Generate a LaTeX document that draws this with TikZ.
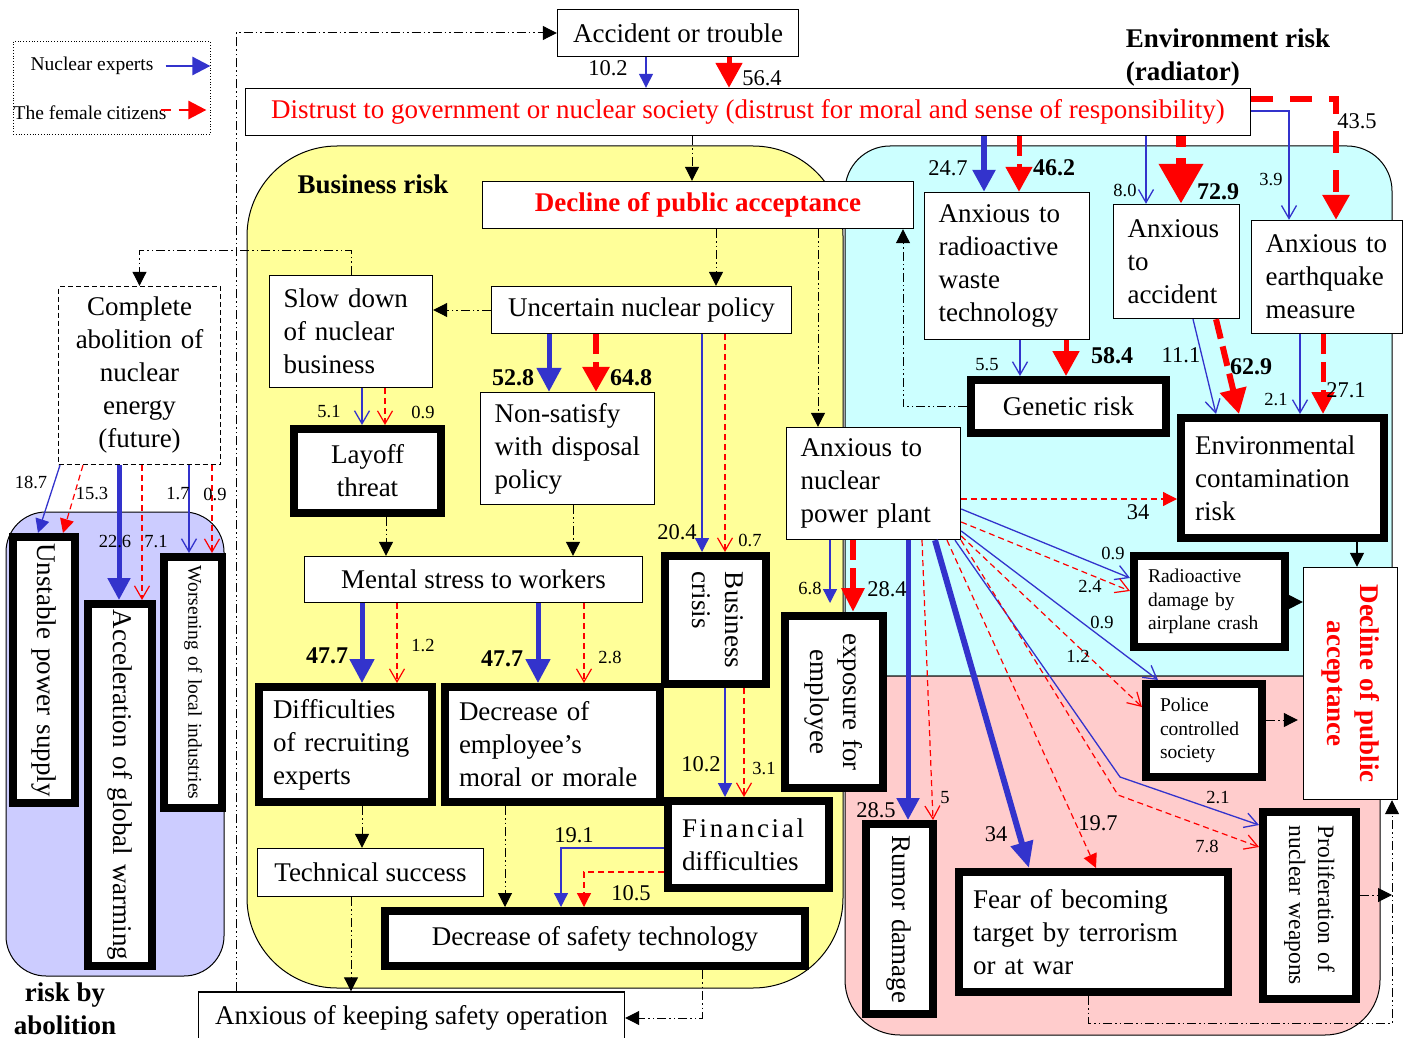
\documentclass[tikz,border=0pt]{standalone}
\usepackage{fontspec}
\setmainfont{Liberation Serif}
\usepackage{graphicx}
\usetikzlibrary{arrows.meta}
\definecolor{ink}{HTML}{000000}
\definecolor{expert}{HTML}{3333CC}
\definecolor{citizen}{HTML}{FF0000}
\definecolor{yel}{HTML}{FFFF99}
\definecolor{cya}{HTML}{CCFFFF}
\definecolor{pnk}{HTML}{FFCCCC}
\definecolor{lav}{HTML}{CCCCFF}
\newcommand{\szbig}{\fontsize{27}{33}\selectfont}
\newcommand{\szmid}{\fontsize{23.5}{29}\selectfont}
\newcommand{\szsml}{\fontsize{19.5}{23.5}\selectfont}
\newcommand{\sznum}{\fontsize{22.5}{26}\selectfont}
\newcommand{\szlab}{\fontsize{18.5}{22}\selectfont}
\newcommand{\szbold}{\fontsize{24}{28}\selectfont\bfseries}
\newcommand{\vtxt}[2][l]{\rotatebox{-90}{\begin{tabular}{@{}#1@{}}#2\end{tabular}}}
\tikzset{
  box/.style={draw=ink, fill=white, line width=1.4pt, inner xsep=14pt, inner ysep=3pt,
    font=\szbig, align=left, text=ink},
  heavy/.style={box, line width=8pt},
  ex/.style={draw=expert, line width=1.3pt, -{Straight Barb[length=13pt,width=15pt]}},
  exf/.style={draw=expert, line width=1.3pt, -{Triangle[length=14pt,width=14pt]}},
  exb/.style={draw=expert, line width=5pt, -{Triangle[length=24pt,width=24pt]}},
  ct/.style={draw=citizen, line width=1.2pt, dash pattern=on 6pt off 4pt,
    -{Straight Barb[length=13pt,width=15pt]}},
  ctf/.style={draw=citizen, line width=1.2pt, dash pattern=on 6pt off 4pt,
    -{Triangle[length=14pt,width=14pt]}},
  ctb/.style={draw=citizen, line width=6pt, dash pattern=on 20pt off 8pt,
    -{Triangle[length=25pt,width=26pt]}},
  flow/.style={draw=ink, line width=1pt,
    dash pattern=on 9pt off 3pt on 1.5pt off 3pt on 1.5pt off 3pt,
    -{Triangle[length=14pt,width=14pt]}},
  link/.style={draw=ink, line width=1.3pt, -{Triangle[length=14pt,width=14pt]}},
  num/.style={font=\sznum, inner sep=0pt},
  snum/.style={font=\szlab, inner sep=0pt},
  bnum/.style={font=\szbold, inner sep=0pt},
  ttl/.style={font=\szbig\bfseries, inner sep=0pt}
}
\begin{document}
\begin{tikzpicture}[x=1pt, y=-1pt]
  \useasboundingbox (0,0) rectangle (1408,1038);

  % risk regions
  \draw[line width=1pt, fill=lav, rounded corners=40pt] (6,512) rectangle (224,976);
  \draw[line width=1pt, fill=yel, rounded corners=90pt] (247,146) rectangle (843,988);
  \draw[line width=1pt, fill=cya] (845,676) [rounded corners=45pt] -- (845,146) -- (1392,146)
    -- (1392,400) [sharp corners] -- (1392,676) -- cycle;
  \draw[line width=1pt, fill=pnk] (845,676) -- (1380,676) -- (1380,900) [rounded corners=55pt]
    -- (1380,1035) -- (845,1035) -- (845,900) [sharp corners] -- cycle;

  \node[ttl] (tbus) at (373,184) {Business risk};
  \node[ttl, align=left] (tenv) at (1228,58) {Environment risk\\(radiator)};
  \node[ttl, align=center] (tabo) at (65,1009) {risk by\\abolition};

  % legend
  \node[draw=ink, dotted, line width=0.8pt, minimum width=197pt, minimum height=93pt,
    inner sep=0pt] (lgd) at (111.5,88) {};
  \node[font=\szsml, inner sep=0pt] (lgex) at (92,66) {Nuclear experts};
  \node[font=\szsml, inner sep=0pt] (lgct) at (90,113) {The female citizens};
  \draw[draw=expert, line width=2.6pt, -{Triangle[length=18pt,width=18pt]}]
    ([xshift=12pt]lgex.east) -- (lgd.east |- lgex.east);
  \draw[draw=citizen, line width=2.6pt, dash pattern=on 10pt off 8pt,
    -{Triangle[length=18pt,width=18pt]}]
    ([xshift=-6pt, yshift=3pt]lgct.east) -- ([xshift=-4pt, yshift=3pt]lgd.east |- lgct.east);

  % business side
  \node[box, align=center, minimum width=241pt, minimum height=47pt] (acc) at (678,33) {Accident or trouble};
  \node[box, align=center, minimum width=1005pt, minimum height=47pt, text=citizen] (dist) at (748,112)
    {Distrust to government or nuclear society (distrust for moral and sense of responsibility)};
  \node[box, align=center, minimum width=431pt, minimum height=47pt, text=citizen,
    font=\szbig\bfseries] (dpa) at (698,205) {Decline of public acceptance};
  \node[box, align=center, minimum width=300pt, minimum height=47pt] (unc) at (641.5,310) {Uncertain nuclear policy};
  \node[box, text width=135pt, minimum height=112pt] (slow) at (351,331.5) {Slow down\\of nuclear\\business};
  \node[box, dash pattern=on 5pt off 3pt, align=center, text width=134pt, minimum height=178pt]
    (abol) at (139.5,375.5) {Complete\\abolition of\\nuclear\\energy\\(future)};
  \node[heavy, align=center, text width=119pt, minimum height=84pt] (lay) at (367.5,471) {Layoff\\threat};
  \node[box, text width=146pt, minimum height=112pt] (nons) at (567.5,448.5) {Non-satisfy\\with disposal\\policy};
  \node[box, align=center, minimum width=338pt, minimum height=46pt] (ment) at (473.5,579.5) {Mental stress to workers};
  \node[heavy, text width=145pt, minimum height=115pt] (diff) at (345.5,744.5) {Difficulties\\of recruiting\\experts};
  \node[heavy, text width=187pt, minimum height=115pt] (demp) at (552.5,744.5) {Decrease of\\employee’s\\moral or morale};
  \node[heavy, align=center, text width=73pt, minimum height=128pt] (bcri) at (715.5,620) {\vtxt{Business\\crisis}};
  \node[heavy, text width=133pt, minimum height=87pt] (fin) at (748.5,844.5)
    {{\addfontfeatures{LetterSpace=10}Financial}\\difficulties};
  \node[box, align=center, minimum width=226pt, minimum height=48pt] (tech) at (370.5,872.5) {Technical success};
  \node[heavy, align=center, minimum width=420pt, minimum height=55pt] (dsaf) at (595,938.5) {Decrease of safety technology};
  \node[box, align=center, minimum width=426pt, minimum height=52pt] (keep) at (411.5,1018) {Anxious of keeping safety operation};

  % abolition side
  \node[heavy, align=center, text width=34pt, minimum height=266pt] (unst) at (44,670) {\vtxt{Unstable power supply}};
  \node[heavy, align=center, text width=36pt, minimum height=362pt] (accg) at (120,785) {\vtxt{Acceleration of global warming}};
  \node[heavy, align=center, text width=30pt, minimum height=251pt, font=\szsml] (wors) at (193,682.5)
    {\vtxt{Worsening of local industries}};

  % environment side
  \node[box, text width=137pt, minimum height=147pt] (arw) at (1007,266) {Anxious to\\radioactive\\waste\\technology};
  \node[box, text width=98pt, minimum height=114pt] (aacc) at (1176.5,261.5) {Anxious\\to\\accident};
  \node[box, text width=123pt, minimum height=113pt] (aeq) at (1327,277) {Anxious to\\earthquake\\measure};
  \node[heavy, align=center, minimum width=195pt, minimum height=53pt] (gen) at (1068.5,406.5) {Genetic risk};
  \node[heavy, text width=175pt, minimum height=120pt] (envc) at (1282.5,478) {Environmental\\contamination\\risk};
  \node[box, text width=146pt, minimum height=112pt] (anpp) at (873.5,483.5) {Anxious to\\nuclear\\power plant};
  \node[heavy, text width=123pt, minimum height=91pt, font=\szsml] (raid) at (1209.5,601.5)
    {Radioactive\\damage by\\airplane crash};
  \node[box, align=center, text width=66pt, minimum height=232pt, text=citizen, font=\szbig\bfseries]
    (dpr) at (1350.5,683.5) {\vtxt[c]{Decline of public\\acceptance}};
  \node[heavy, align=center, text width=70pt, minimum height=172pt] (expo) at (834,702) {\vtxt[c]{exposure for\\employee}};
  \node[heavy, text width=88pt, minimum height=93pt, font=\szsml] (pol) at (1204,730.5) {Police\\controlled\\society};
  \node[heavy, align=center, text width=39pt, minimum height=190pt] (rum) at (899.5,919) {\vtxt{Rumor damage}};
  \node[heavy, text width=241pt, minimum height=120pt] (fear) at (1093.5,932)
    {Fear of becoming\\target by terrorism\\or at war};
  \node[heavy, align=center, text width=65pt, minimum height=187pt, font=\szmid] (prol) at (1309.5,905.5)
    {\vtxt{Proliferation of\\nuclear weapons}};

  \coordinate (kb) at (1120,777);
  \coordinate (kr) at (1118,795);
  \coordinate (jn) at (1392,895);
  \coordinate (crn) at (1392,1023);

  % dash-dot flow
  \draw[flow] (keep.north -| 236,0) |- (acc.west);
  \draw[flow] (dist.south -| 692,0) -- (dpa.north -| 692,0);
  \draw[flow] (dpa.south -| 716,0) -- (unc.north -| 716,0);
  \draw[flow] (dpa.south -| 818,0) -- (anpp.north -| 818,0);
  \draw[flow] (unc.west |- 0,310) -- (slow.east |- 0,310);
  \draw[flow] (slow.north) -- ++(0,-24) -| (abol.north);
  \draw[flow] (lay.south -| 386,0) -- (ment.north -| 386,0);
  \draw[flow] (nons.south -| 573,0) -- (ment.north -| 573,0);
  \draw[flow] (diff.south -| 362,0) -- (tech.north -| 362,0);
  \draw[flow] (demp.south -| 505,0) -- (dsaf.north -| 505,0);
  \draw[flow] (tech.south -| 351,0) -- (keep.north -| 351,0);
  \draw[flow] (dsaf.south -| 702,0) |- (keep.east);
  \draw[flow] (gen.west) -| (dpa.south -| 903,0);
  \draw[flow, shorten >=5pt] (pol.east |- 0,720) -- (dpr.west |- 0,720);
  \draw[flow] (prol.east |- jn) -- (jn);
  \draw[flow] (fear.south -| 1088,0) |- (crn) -- (dpr.south -| crn);
  \draw[link] (envc.south -| 1357,0) -- (dpr.north -| 1357,0);
  \draw[link] (raid.east |- 0,602) -- (dpr.west |- 0,602);

  % answers: accident and distrust
  \draw[exf] (acc.south -| 646,0) -- (dist.north -| 646,0);
  \draw[ctb, line width=5pt, dash pattern=on 6pt off 4pt] (acc.south -| 729,0) -- (dist.north -| 729,0);
  \draw[exb, line width=5.5pt, -{Triangle[length=22pt,width=22pt]}] (dist.south -| 984,0) -- (arw.north -| 984,0);
  \draw[ctb, line width=5pt] (dist.south -| 1019,0) -- (arw.north -| 1019,0);
  \draw[ex] (dist.south -| 1146,0) -- (aacc.north -| 1146,0);
  \draw[ctb, line width=10pt, dash pattern=on 11pt off 11pt, -{Triangle[length=40pt,width=42pt]}]
    (dist.south -| 1181,0) -- (aacc.north -| 1181,0);
  \draw[ex] (dist.east |- 0,111) -| (aeq.north -| 1289,0);
  \draw[ctb, dash pattern=on 22pt off 17pt] (dist.east |- 0,99) -| (aeq.north -| 1336,0);

  % answers: abolition
  \draw[exf] (abol.south -| 60,0) -- (unst.north -| 38,0);
  \draw[ctf] (abol.south -| 83,0) -- (unst.north -| 63,0);
  \draw[exb, -{Triangle[length=22pt,width=22pt]}] (abol.south -| 119,0) -- (accg.north -| 119,0);
  \draw[ct] (abol.south -| 142,0) -- (accg.north -| 142,0);
  \draw[ex] (abol.south -| 189,0) -- (wors.north -| 189,0);
  \draw[ct] (abol.south -| 212,0) -- (wors.north -| 212,0);

  % answers: business
  \draw[ex] (slow.south -| 362,0) -- (lay.north -| 362,0);
  \draw[ct] (slow.south -| 385,0) -- (lay.north -| 385,0);
  \draw[exb] (unc.south -| 549,0) -- (nons.north -| 549,0);
  \draw[ctb] (unc.south -| 596,0) -- (nons.north -| 596,0);
  \draw[exf] (unc.south -| 702,0) -- (bcri.north -| 702,0);
  \draw[ct] (unc.south -| 725,0) -- (bcri.north -| 725,0);
  \draw[exb] (ment.south -| 362,0) -- (diff.north -| 362,0);
  \draw[ct] (ment.south -| 397,0) -- (diff.north -| 397,0);
  \draw[exb] (ment.south -| 538,0) -- (demp.north -| 538,0);
  \draw[ct] (ment.south -| 584,0) -- (demp.north -| 584,0);
  \draw[exf] (bcri.south -| 725,0) -- (fin.north -| 725,0);
  \draw[ct] (bcri.south -| 744,0) -- (fin.north -| 744,0);
  \draw[exf] (fin.west |- 0,848) -| (dsaf.north -| 561,0);
  \draw[ctf] (fin.west |- 0,872) -| (dsaf.north -| 584,0);

  % answers: environment
  \draw[ex] (arw.south -| 1020,0) -- (gen.north -| 1020,0);
  \draw[ctb, line width=5pt] (arw.south -| 1066,0) -- (gen.north -| 1066,0);
  \draw[ex] (aacc.south -| 1193,0) -- (envc.north -| 1216,0);
  \draw[ctb] (aacc.south -| 1216,0) -- (envc.north -| 1239,0);
  \draw[ex] (aeq.south -| 1300,0) -- (envc.north -| 1300,0);
  \draw[ctb, line width=5pt, -{Triangle[length=22pt,width=22pt]}] (aeq.south -| 1323,0) -- (envc.north -| 1323,0);
  \draw[ctf] (anpp.east |- 0,499) -- (envc.west |- 0,499);
  \draw[ex] (anpp.east |- 0,509) -- (raid.west |- 0,578);
  \draw[ct] (anpp.east |- 0,522) -- (raid.west |- 0,591);
  \draw[ex] (anpp.east |- 0,531) -- (pol.north -| 1158,0);
  \draw[ct] (anpp.east |- 0,536) -- (pol.west |- 0,707);
  \draw[ex] (anpp.south -| 955,0) -- (kb) -- (prol.west |- 0,825);
  \draw[ct] (anpp.south -| 961,0) -- (kr) -- (prol.west |- 0,847);
  \draw[exb, line width=6pt, -{Triangle[length=26pt,width=22pt]}] (anpp.south -| 935,0) -- (fear.north -| 1029,0);
  \draw[ctf] (anpp.south -| 947,0) -- (fear.north -| 1096,0);
  \draw[exb, -{Triangle[length=22pt,width=22pt]}] (anpp.south -| 908,0) -- (rum.north -| 908,0);
  \draw[ct] (anpp.south -| 922,0) -- (rum.north -| 933,0);
  \draw[exf, shorten >=9pt] (anpp.south -| 830,0) -- (expo.north -| 830,0);
  \draw[ctb, -{Triangle[length=24pt,width=22pt]}] (anpp.south -| 853,0) -- (expo.north -| 853,0);

  % figures
  \foreach \t/\x/\y [count=\i] in {10.2/608/68, 56.4/762/78, 43.5/1357/121, 24.7/948/168,
      20.4/677/532, 10.2/701/764, 19.1/574/835, 10.5/631/893, 28.4/887/589, 28.5/876/810,
      34/996/834, 19.7/1098/823, 34/1138/512, 11.1/1181/355, 27.1/1346/390}
    \node[num] (b\i) at (\x,\y) {\t};
  \foreach \t/\x/\y [count=\i] in {18.7/31/482, 15.3/92/494, 22.6/115/542, 7.1/156/542,
      1.7/178/494, 0.9/215/494, 5.1/329/412, 0.9/423/412, 0.7/750/540, 3.1/764/768,
      2.8/610/657, 1.2/423/646, 6.8/810/588, 0.9/1113/553, 2.4/1090/587, 0.9/1102/622,
      1.2/1078/657, 2.1/1218/797, 7.8/1207/846, 5/945/798, 8.0/1125/190, 3.9/1271/180,
      5.5/987/365, 2.1/1276/400}
    \node[snum] (s\i) at (\x,\y) {\t};
  \foreach \t/\x/\y [count=\i] in {52.8/513/378, 64.8/631/378, 47.7/327/656, 47.7/502/659,
      46.2/1054/168, 72.9/1218/192, 58.4/1112/356, 62.9/1251/367}
    \node[bnum] (k\i) at (\x,\y) {\t};
\end{tikzpicture}
\end{document}
